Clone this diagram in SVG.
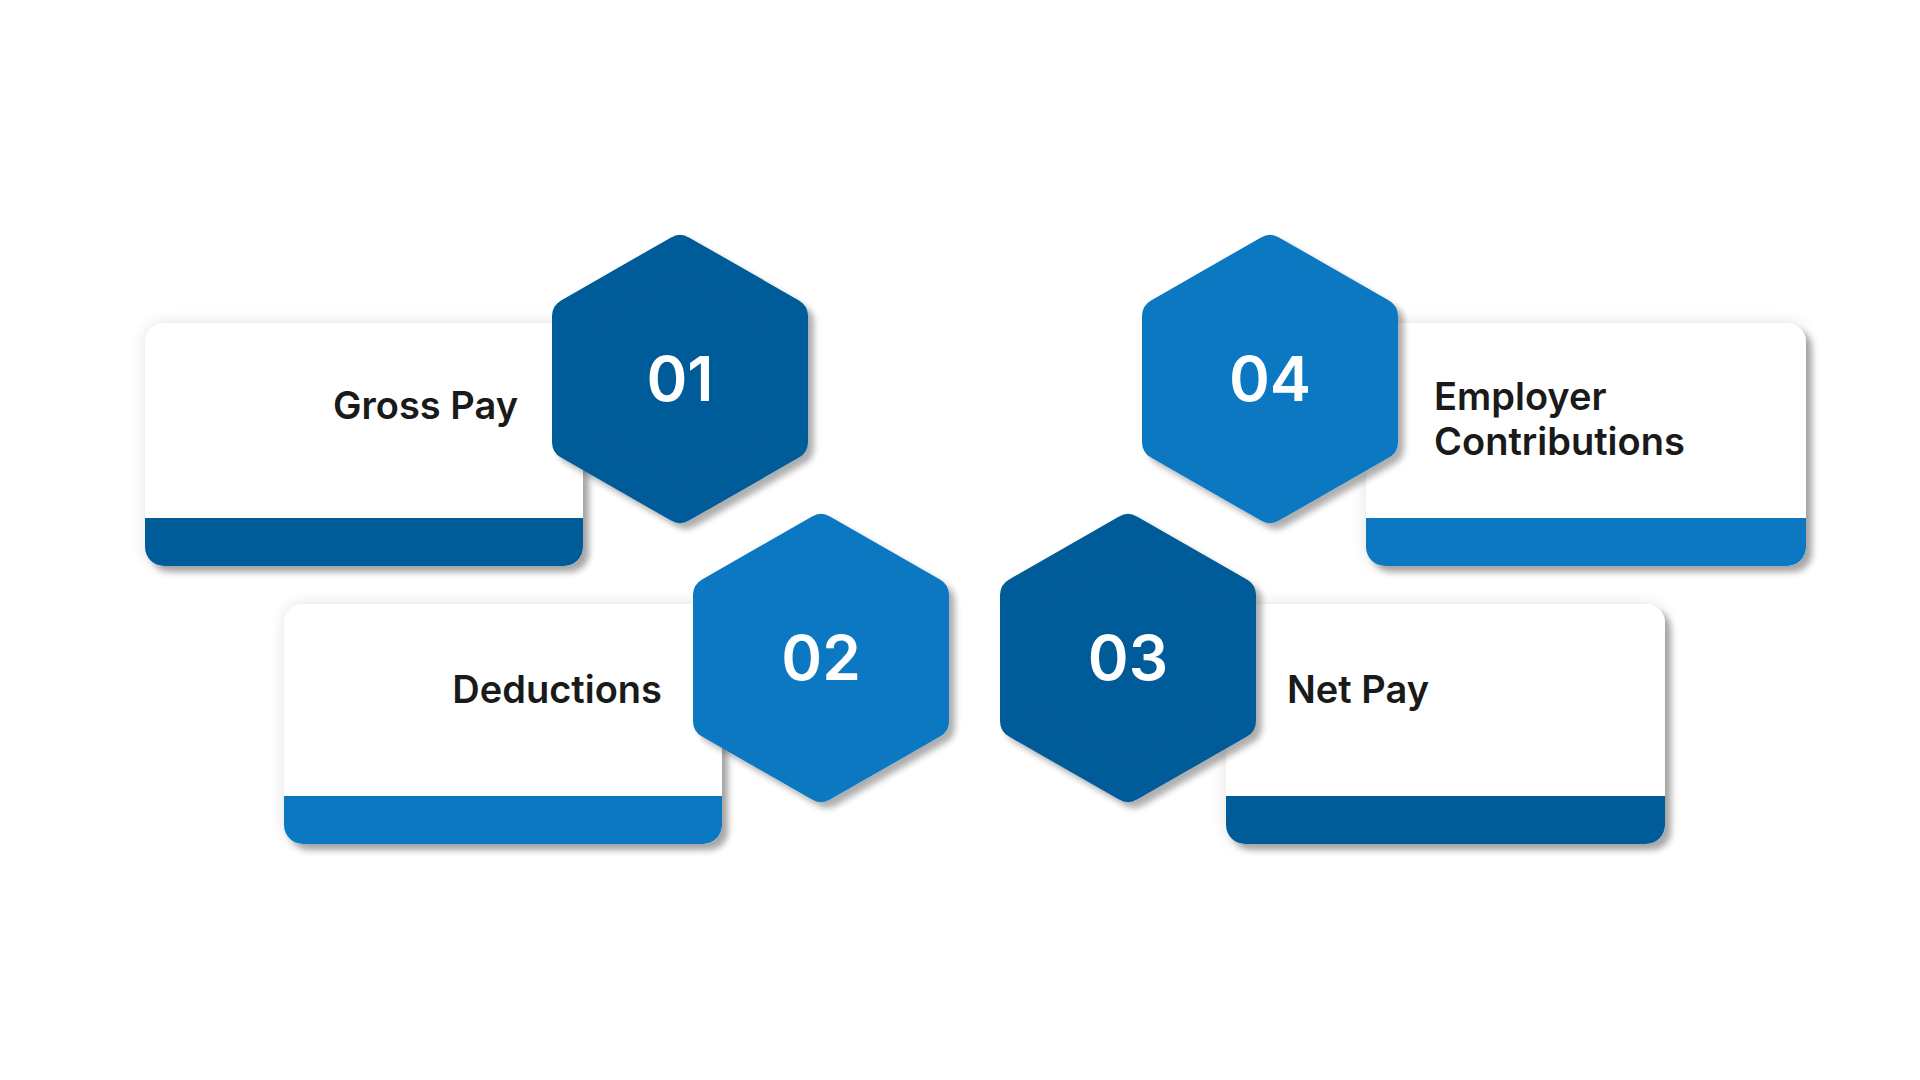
<svg xmlns="http://www.w3.org/2000/svg" width="1920" height="1080" viewBox="0 0 1920 1080">
  <defs>
    <filter id="cardShadow" x="-10%" y="-15%" width="125%" height="135%">
      <feGaussianBlur in="SourceAlpha" stdDeviation="8" result="glowBlur"/>
      <feComponentTransfer in="glowBlur" result="glow"><feFuncA type="linear" slope="0.12"/></feComponentTransfer>
      <feOffset in="SourceAlpha" dx="6" dy="6" result="off"/>
      <feGaussianBlur in="off" stdDeviation="3" result="offBlur"/>
      <feComponentTransfer in="offBlur" result="drop"><feFuncA type="linear" slope="0.32"/></feComponentTransfer>
      <feMerge><feMergeNode in="glow"/><feMergeNode in="drop"/><feMergeNode in="SourceGraphic"/></feMerge>
    </filter>
    <filter id="hexShadow" x="-15%" y="-15%" width="135%" height="135%">
      <feOffset in="SourceAlpha" dx="6" dy="6" result="off"/>
      <feGaussianBlur in="off" stdDeviation="3" result="offBlur"/>
      <feComponentTransfer in="offBlur" result="drop"><feFuncA type="linear" slope="0.32"/></feComponentTransfer>
      <feMerge><feMergeNode in="drop"/><feMergeNode in="SourceGraphic"/></feMerge>
    </filter>
    <polygon id="hex" points="0,-126 110,-63 110,63 0,126 -110,63 -110,-63"/>
  </defs>
  <style>
    .card { fill: #ffffff; }
    .dark { fill: #045B98; }
    .light { fill: #0878C2; }
    .hexDark { fill: #045B98; stroke: #045B98; stroke-width: 36; stroke-linejoin: round; }
    .hexLight { fill: #0878C2; stroke: #0878C2; stroke-width: 36; stroke-linejoin: round; }
    .label { font-family: Inter, "Liberation Sans", sans-serif; font-weight: 600; font-size: 38px; fill: #1a1a1a; }
    .num { font-family: Inter, "Liberation Sans", sans-serif; font-weight: 600; font-size: 62px; fill: #ffffff; text-anchor: middle; }
  </style>
  <rect width="1920" height="1080" fill="#ffffff"/>

  <g id="connectors"></g>

  <g id="card1" filter="url(#cardShadow)">
    <rect class="card" x="145" y="323" width="438" height="243" rx="19"/>
    <path class="dark" d="M145,518 H583 V547 A19,19 0 0 1 564,566 H164 A19,19 0 0 1 145,547 Z"/>
  </g>
  <g id="card2" filter="url(#cardShadow)">
    <rect class="card" x="284" y="604" width="438" height="240" rx="19"/>
    <path class="light" d="M284,796 H722 V825 A19,19 0 0 1 703,844 H303 A19,19 0 0 1 284,825 Z"/>
  </g>
  <g id="card3" filter="url(#cardShadow)">
    <rect class="card" x="1226" y="604" width="439" height="240" rx="19"/>
    <path class="dark" d="M1226,796 H1665 V825 A19,19 0 0 1 1646,844 H1245 A19,19 0 0 1 1226,825 Z"/>
  </g>
  <g id="card4" filter="url(#cardShadow)">
    <rect class="card" x="1366" y="323" width="440" height="243" rx="19"/>
    <path class="light" d="M1366,518 H1806 V547 A19,19 0 0 1 1787,566 H1385 A19,19 0 0 1 1366,547 Z"/>
  </g>

  <text class="label" x="518" y="419" text-anchor="end">Gross Pay</text>
  <text class="label" x="662" y="703" text-anchor="end">Deductions</text>
  <text class="label" x="1287" y="703">Net Pay</text>
  <text class="label" x="1434" y="410">Employer</text>
  <text class="label" x="1434" y="455">Contributions</text>

  <g id="hex1" filter="url(#hexShadow)">
    <use href="#hex" class="hexDark" x="680" y="379"/>
    <text class="num" x="680" y="401">01</text>
  </g>
  <g id="hex2" filter="url(#hexShadow)">
    <use href="#hex" class="hexLight" x="821" y="658"/>
    <text class="num" x="821" y="680">02</text>
  </g>
  <g id="hex3" filter="url(#hexShadow)">
    <use href="#hex" class="hexDark" x="1128" y="658"/>
    <text class="num" x="1128" y="680">03</text>
  </g>
  <g id="hex4" filter="url(#hexShadow)">
    <use href="#hex" class="hexLight" x="1270" y="379"/>
    <text class="num" x="1270" y="401">04</text>
  </g>
</svg>
